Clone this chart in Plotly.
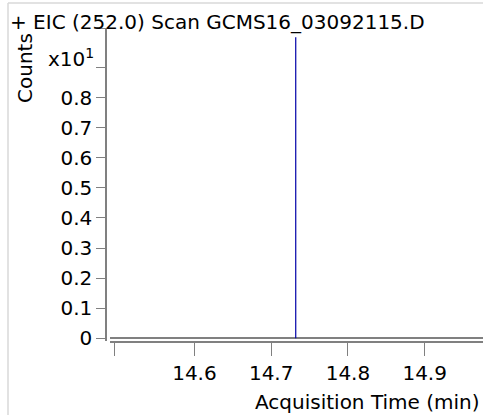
import plotly.graph_objects as go

# ---- data ----
title_text = "+ EIC (252.0) Scan GCMS16_03092115.D"
peak_times = [14.732]          # acquisition time (min)
peak_counts = [1.0]            # counts, x10^1
y_tick_vals = [0, 0.1, 0.2, 0.3, 0.4, 0.5, 0.6, 0.7, 0.8, 0.9, 1.03]
y_tick_text = ["0", "0.1", "0.2", "0.3", "0.4", "0.5", "0.6", "0.7", "0.8", "", ""]
x_tick_vals = [14.496, 14.6, 14.7, 14.8, 14.9]
x_tick_text = ["", "14.6", "14.7", "14.8", "14.9"]
x_range = [14.490, 14.976]
y_range = [-0.009, 1.031]

W, H = 483, 415
L, T, B = 106, 28, 74
PW = W - L
PH = H - T - B


def px(x):
    return (x - L) / PW


def py(y):
    return (H - B - y) / PH


xs, ys = [], []
for t, c in zip(peak_times, peak_counts):
    xs += [t, t, None]
    ys += [0, c, None]

FONT = "DejaVu Sans"
FS = 20
AX = "#808080"

fig = go.Figure()
fig.add_trace(go.Scatter(x=xs, y=ys, mode="lines",
                         line=dict(color="#0000a8", width=1.2),
                         hoverinfo="skip", showlegend=False))

fig.update_layout(
    width=W, height=H,
    margin=dict(l=L, r=0, t=T, b=B, pad=0),
    paper_bgcolor="white", plot_bgcolor="white",
    font=dict(family=FONT, size=FS, color="black"),
    showlegend=False,
    xaxis=dict(domain=[px(110), 1], range=x_range, tickmode="array",
               tickvals=x_tick_vals, ticktext=x_tick_text,
               ticks="outside", ticklen=13, tickcolor=AX, tickwidth=1,
               showline=True, linecolor=AX, linewidth=1.5,
               showgrid=False, zeroline=False, fixedrange=True),
    yaxis=dict(anchor="free", position=0, range=y_range, tickmode="array",
               tickvals=y_tick_vals, ticktext=y_tick_text,
               ticks="outside", ticklen=9, tickcolor=AX, tickwidth=1,
               showline=True, linecolor=AX, linewidth=1.5,
               showgrid=False, zeroline=True, zerolinecolor=AX,
               zerolinewidth=1.5, fixedrange=True),
    annotations=[
        dict(text=title_text, xref="paper", yref="paper", x=px(8), y=py(22),
             xanchor="left", yanchor="middle", showarrow=False,
             font=dict(size=FS)),
        dict(text="Counts", xref="paper", yref="paper", x=px(25), y=py(68),
             xanchor="center", yanchor="middle", textangle=-90,
             showarrow=False, font=dict(size=FS)),
        dict(text="x10<sup>1</sup>", xref="paper", yref="paper", x=px(96),
             y=py(58), xanchor="right", yanchor="middle", showarrow=False,
             font=dict(size=FS)),
        dict(text="Acquisition Time (min)", xref="paper", yref="paper",
             x=px(482), y=py(402), xanchor="right", yanchor="middle",
             showarrow=False, font=dict(size=FS)),
    ],
    shapes=[
        dict(type="line", xref="paper", yref="paper", x0=px(8), x1=px(483),
             y0=py(3), y1=py(3), layer="above",
             line=dict(color="#d8d8d8", width=1.5)),
        dict(type="line", xref="paper", yref="paper", x0=px(8), x1=px(8),
             y0=py(3), y1=py(415), layer="above",
             line=dict(color="#d8d8d8", width=1.5)),
    ],
)

fig.write_html("out.html",
               config={"displayModeBar": False},
               post_script="document.body.style.margin='0';"
                           "document.body.style.overflow='hidden';")
